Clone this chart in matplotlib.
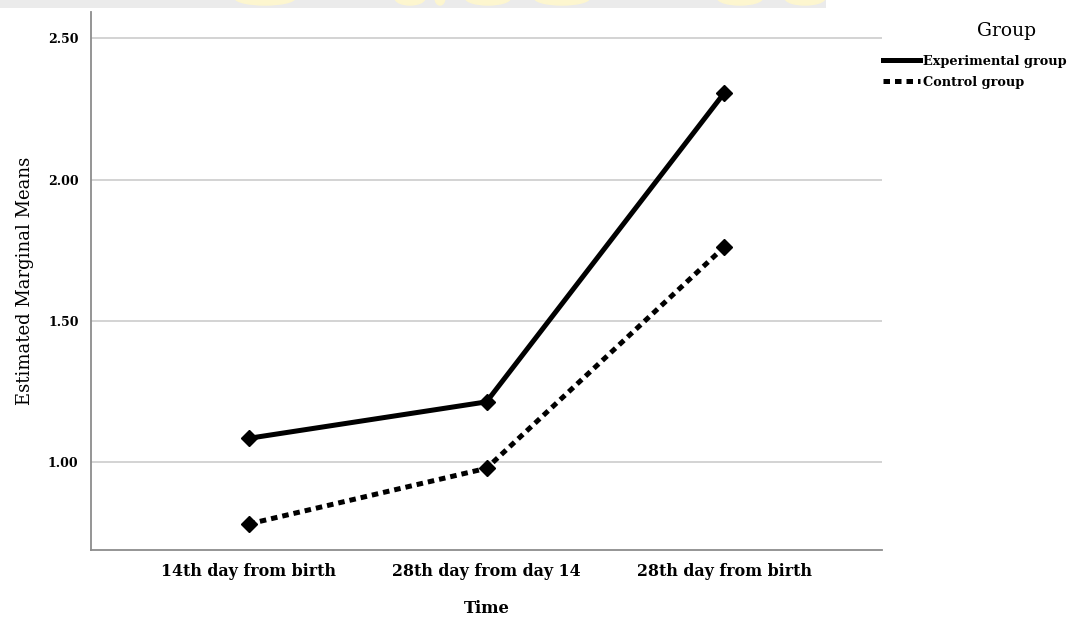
import numpy as np
import matplotlib.pyplot as plt
from matplotlib.lines import Line2D
from matplotlib.patches import Ellipse

# ── Data ─────────────────────────────────────────────────────
time_points = ['14th day from birth', '28th day from day 14', '28th day from birth']
experimental = [1.085, 1.214, 2.307]
control = [0.782, 0.979, 1.762]
y_ticks = [1.00, 1.50, 2.00, 2.50]

plt.rcParams['font.family'] = ['DejaVu Serif']

fig = plt.figure(figsize=(10.78, 6.24), dpi=100)

# faint header strip along the top edge (grey band with yellow blobs)
band = fig.add_axes([0, 1 - 8 / 624, 826 / 1078, 8 / 624])
band.set_xlim(0, 826)
band.set_ylim(0, 8)
band.axis('off')
band.add_patch(plt.Rectangle((0, 0), 826, 8, color='#ebebeb', zorder=0))
for cx, w in [(265, 60), (410, 30), (440, 10), (488, 45), (562, 55), (740, 45), (805, 40)]:
    band.add_patch(Ellipse((cx, 10), w, 14, color='#fdf6cf', zorder=1))

ax = fig.add_axes([91 / 1078, 74 / 624, 791 / 1078, 538 / 624])

x = np.arange(len(time_points))
dotted = (0, (1.3, 1.0))

# experimental group: solid line with diamond markers
ax.plot(x, experimental, color='black', lw=3.6, ls='-',
        marker='D', ms=8, zorder=3)

# control group: dotted line with diamond markers
ax.plot(x, control, color='black', lw=3.6, ls=dotted,
        marker='D', ms=8, zorder=3)

ax.set_xlim(-0.663, 2.663)
ax.set_ylim(0.690, 2.593)

ax.set_yticks(y_ticks)
ax.set_yticklabels([f'{v:.2f}' for v in y_ticks], fontsize=9, fontweight='bold')
ax.set_xticks(x)
ax.set_xticklabels(time_points, fontsize=11.4, fontweight='bold')
ax.tick_params(axis='both', length=0)
ax.tick_params(axis='y', pad=9)
ax.tick_params(axis='x', pad=9)

ax.yaxis.grid(True, color='#cccccc', lw=1.2)
ax.set_axisbelow(True)

for side in ['top', 'right']:
    ax.spines[side].set_visible(False)
for side in ['left', 'bottom']:
    ax.spines[side].set_color('#8c8c8c')
    ax.spines[side].set_linewidth(1.3)

ax.set_xlabel('Time', fontsize=11.8, fontweight='bold', labelpad=15)
ax.set_ylabel('Estimated Marginal Means', fontsize=13, labelpad=10)

# legend: title drawn separately, entries without markers
fig.text(1007 / 1078, 1 - 31 / 624, 'Group', fontsize=13.5,
         ha='center', va='center')
handles = [Line2D([0], [0], color='black', lw=3.6, ls='-'),
           Line2D([0], [0], color='black', lw=3.6, ls=dotted)]
fig.legend(handles, ['Experimental group', 'Control group'],
           loc='upper left', bbox_to_anchor=(883 / 1078, 1 - 55 / 624),
           frameon=False, handlelength=2.9, handletextpad=0.2,
           labelspacing=0.62, borderpad=0, borderaxespad=0,
           prop={'size': 9.3, 'weight': 'bold'})

plt.savefig('out.png', dpi=100)
